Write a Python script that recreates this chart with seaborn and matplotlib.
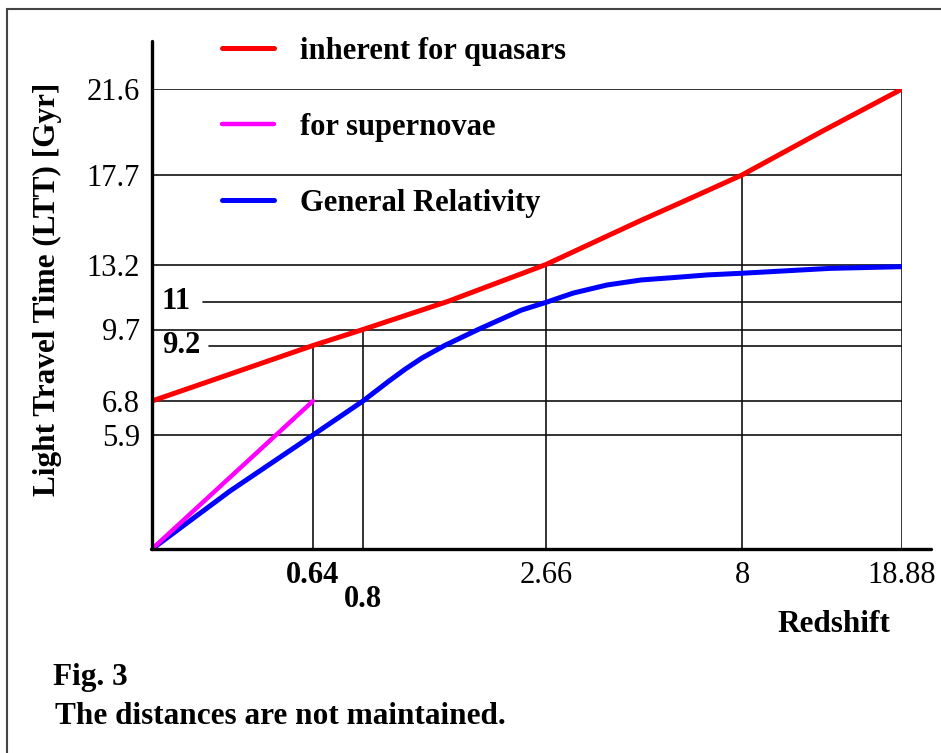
import numpy as np
import pandas as pd
import matplotlib
matplotlib.use("Agg")
import matplotlib.pyplot as plt
import matplotlib.transforms as mtransforms
from matplotlib.patches import Rectangle
import seaborn as sns

# values marked on the axes
z_ticks = [0.64, 0.8, 2.66, 8, 18.88]
ltt_ticks = [5.9, 6.8, 9.2, 9.7, 11, 13.2, 17.7, 21.6]
inner_ltt_labels = [9.2, 11]  # these two are written inside the plot

# curves (redshift, LTT in Gyr)
quasar_z = [0, 0.64, 0.8, 1.66, 2.66, 4.0, 5.25, 6.5, 8, 13.5, 18.88]
quasar_ltt = [6.8, 9.2, 9.7, 11, 13.2, 14.35, 15.42, 16.45, 17.7, 19.7, 21.6]
sn_z = [0, 0.64]
sn_ltt = [0, 6.8]
gr_z = [0, 0.31, 0.64, 0.8, 1.06, 1.23, 1.4, 1.63, 1.97, 2.41, 2.66,
        3.4, 4.32, 5.25, 6.12, 7.05, 8, 14.0, 18.88]
gr_ltt = [0, 3.0, 5.9, 6.8, 7.65, 8.18, 8.66, 9.2, 9.7, 10.6, 10.96,
          11.5, 11.98, 12.28, 12.42, 12.58, 12.68, 12.97, 13.07]

labels = ["inherent for quasars", "for supernovae", "General Relativity"]
colors = ["#ff0000", "#ff00ff", "#0000ff"]

# "the distances are not maintained": every marked value has its own place on the axis
z_place = [0, 161, 211, 394, 590, 750]
ltt_place = [0, 114, 148, 203.5, 219.5, 247.5, 284.5, 374, 460]

W, H = 941, 753


def piecewise(src, dst):
    src = np.asarray(src, float)
    dst = np.asarray(dst, float)

    def f(v):
        v = np.asarray(v, float)
        out = np.interp(v, src, dst)
        lo_slope = (dst[1] - dst[0]) / (src[1] - src[0])
        hi_slope = (dst[-1] - dst[-2]) / (src[-1] - src[-2])
        out = np.where(v < src[0], dst[0] + (v - src[0]) * lo_slope, out)
        out = np.where(v > src[-1], dst[-1] + (v - src[-1]) * hi_slope, out)
        return out
    return f


sns.set_style("white")
plt.rcParams["font.family"] = ["Liberation Serif", "DejaVu Serif"]
plt.rcParams["text.color"] = "black"
plt.rcParams["axes.labelcolor"] = "black"

fig = plt.figure(figsize=(W / 100, H / 100), dpi=100)
ax = fig.add_axes([152 / W, (H - 549) / H, 750 / W, 460 / H])

z_knots = [0] + z_ticks
ltt_knots = [0] + ltt_ticks
ax.set_xscale("function", functions=(piecewise(z_knots, z_place), piecewise(z_place, z_knots)))
ax.set_yscale("function", functions=(piecewise(ltt_knots, ltt_place), piecewise(ltt_place, ltt_knots)))
ax.set_xlim(0, z_ticks[-1])
ax.set_ylim(0, ltt_ticks[-1])

for s in ax.spines.values():
    s.set_visible(False)

# grid lines: horizontals run to the last redshift, verticals stop at the quasar curve
grid_kw = dict(color="#111111", lw=1.2, zorder=1)
full = [v for v in ltt_ticks if v not in inner_ltt_labels]
ax.hlines(full, 0, z_ticks[-1], **grid_kw)
ax.axhline(11, xmin=51 / 750, xmax=1, **grid_kw)
ax.axhline(9.2, xmin=57 / 750, xmax=1, **grid_kw)
ax.vlines(z_ticks, 0, np.interp(z_ticks, quasar_z, quasar_ltt), **grid_kw)

# axis lines, longer than the data area
ax.plot([-0.002, 1.039], [0, 0], transform=ax.transAxes, clip_on=False, color="black", lw=2.4, zorder=4)
ax.plot([0, 0], [0, 1.104], transform=ax.transAxes, clip_on=False, color="black", lw=2.4, zorder=4)

sns.lineplot(x=quasar_z, y=quasar_ltt, color=colors[0], lw=3.6, ax=ax, zorder=3)
sns.lineplot(x=gr_z, y=gr_ltt, color=colors[2], lw=3.6, ax=ax, zorder=3)
sns.lineplot(x=sn_z, y=sn_ltt, color=colors[1], lw=3.2, ax=ax, zorder=3)
handles = [ax.lines[-3], ax.lines[-1], ax.lines[-2]]

ax.set_yticks(full)
ax.set_yticklabels([f"{v:g}" for v in full])
ax.set_xticks(z_ticks)
ax.set_xticklabels([f"{v:g}" for v in z_ticks])
ax.tick_params(axis="both", length=0, labelsize=22, colors="black")
ax.tick_params(axis="y", pad=8.5)
ax.tick_params(axis="x", pad=8.5)

xlabs = ax.get_xticklabels()
for lab in xlabs[:2]:
    lab.set_fontweight("bold")
# 0.8 is pushed down so it does not run into 0.64
xlabs[1].set_transform(xlabs[1].get_transform()
                       + mtransforms.ScaledTranslation(0, -0.24, fig.dpi_scale_trans))

for v in inner_ltt_labels:
    ax.text(10 / 750, v, f"{v:g}", transform=ax.get_yaxis_transform(),
            ha="left", va="center", fontsize=22, fontweight="bold", color="black")

ax.set_xlabel("Redshift", fontsize=22.5, fontweight="bold")
ax.xaxis.set_label_coords((834 - 152) / 750, (549 - 624) / 460)
ax.xaxis.label.set_va("center")
ax.set_ylabel("Light Travel Time (LTT) [Gyr]", fontsize=22.5, fontweight="bold")
ax.yaxis.set_label_coords((47 - 152) / 750, (549 - 289) / 460)
ax.yaxis.label.set_va("center")

ax.legend(handles, labels, loc="upper left", bbox_to_anchor=(222 / W, 1 - 37 / H),
          bbox_transform=fig.transFigure, frameon=False, prop={"size": 22, "weight": "bold"},
          handlelength=1.7, handletextpad=0.85, labelspacing=1.53,
          borderpad=0, borderaxespad=0)

fig.text(53 / W, 1 - 678 / H, "Fig. 3", ha="left", va="center", fontsize=22.5, fontweight="bold")
fig.text(55 / W, 1 - 717 / H, "The distances are not maintained.", ha="left", va="center",
         fontsize=22.5, fontweight="bold")

fig.add_artist(Rectangle((7 / W, -0.05), 1.0, 1.05 - 9 / H, transform=fig.transFigure,
                         fill=False, ec="#444444", lw=1.5))

fig.savefig("out.png", dpi=100)
